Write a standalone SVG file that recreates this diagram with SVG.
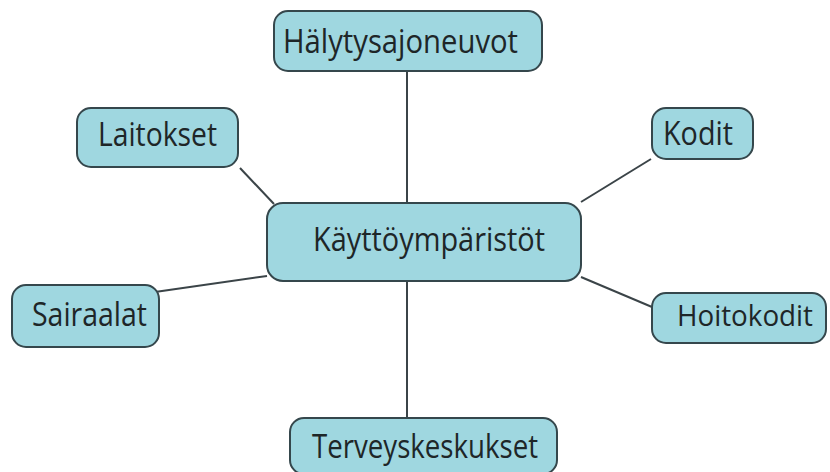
<svg xmlns="http://www.w3.org/2000/svg" width="830" height="472" viewBox="0 0 830 472">
<style>
.box{fill:#9fd7e0;stroke:#35474c;stroke-width:2}
.lbl{font-family:"Open Sans","Noto Sans",sans-serif;font-size:32px;fill:#1e2628}
.con{stroke:#3b4448;stroke-width:2;fill:none}
</style>
<rect width="830" height="472" fill="#ffffff"/>
<g id="connectors">
<line class="con" x1="407" y1="71" x2="407" y2="203"/>
<line class="con" x1="407" y1="281" x2="407" y2="418"/>
<line class="con" x1="240" y1="168" x2="274" y2="204"/>
<line class="con" x1="581" y1="202" x2="651" y2="159"/>
<line class="con" x1="581" y1="277" x2="652" y2="307"/>
<line class="con" x1="155" y1="292" x2="267" y2="276"/>
</g>
<g id="kayttoymparistot">
<rect class="box" x="267" y="203" width="314" height="78" rx="16"/>
<text class="lbl" x="313" y="251" textLength="232" lengthAdjust="spacingAndGlyphs">Käyttöympäristöt</text>
</g>
<g id="halytysajoneuvot">
<rect class="box" x="274" y="11" width="268" height="60" rx="14"/>
<text class="lbl" x="283" y="53" textLength="235" lengthAdjust="spacingAndGlyphs">Hälytysajoneuvot</text>
</g>
<g id="laitokset">
<rect class="box" x="77" y="108" width="161" height="59" rx="14"/>
<text class="lbl" x="98" y="146" textLength="119" lengthAdjust="spacingAndGlyphs">Laitokset</text>
</g>
<g id="kodit">
<rect class="box" x="652" y="108" width="101" height="51" rx="14"/>
<text class="lbl" x="663" y="145" textLength="70" lengthAdjust="spacingAndGlyphs">Kodit</text>
</g>
<g id="sairaalat">
<rect class="box" x="12" y="285" width="147" height="62" rx="14"/>
<text class="lbl" x="32" y="326" textLength="115" lengthAdjust="spacingAndGlyphs">Sairaalat</text>
</g>
<g id="hoitokodit">
<rect class="box" x="652" y="293" width="174" height="50" rx="14"/>
<text class="lbl" x="677" y="326" style="font-size:30px" textLength="136" lengthAdjust="spacingAndGlyphs">Hoitokodit</text>
</g>
<g id="terveyskeskukset">
<rect class="box" x="290" y="418" width="267" height="56" rx="14"/>
<text class="lbl" x="312" y="458" textLength="226" lengthAdjust="spacingAndGlyphs">Terveyskeskukset</text>
</g>
</svg>
